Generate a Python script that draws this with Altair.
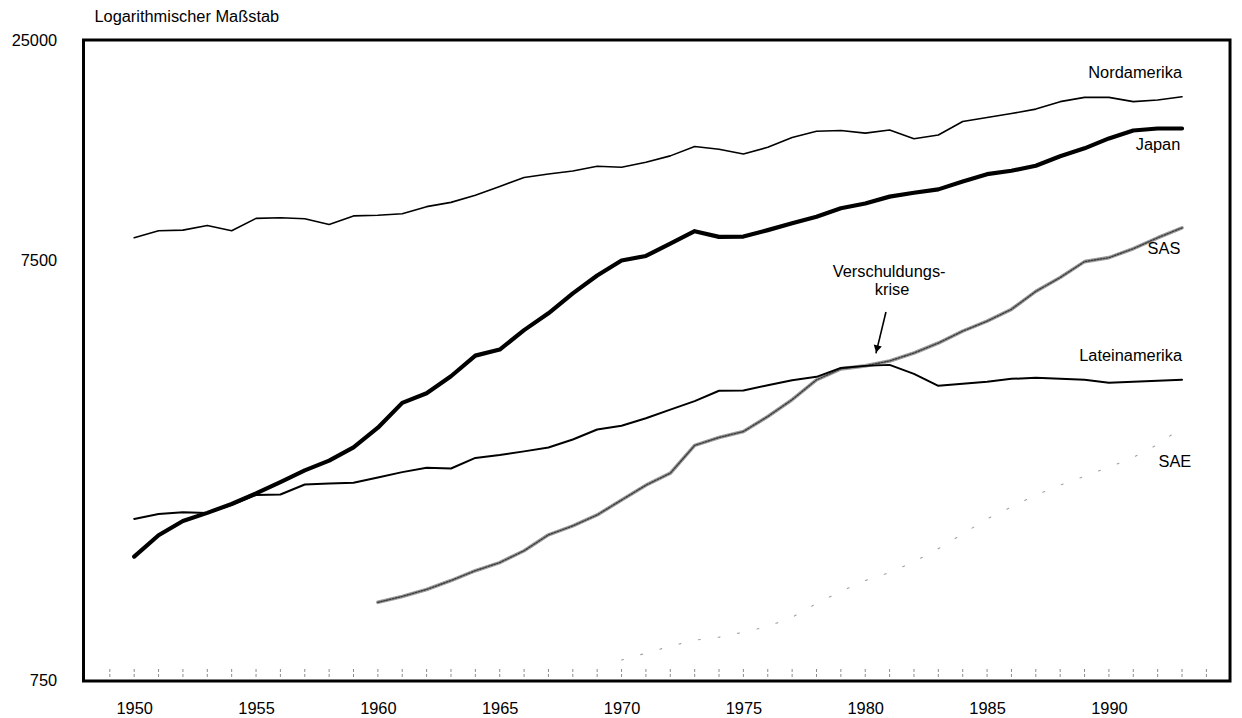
import altair as alt
import pandas as pd

FONT = "Liberation Sans"

# ---- data ----
years_main = list(range(1950, 1994))
nordamerika = [8476, 8805, 8838, 9069, 8805, 9425, 9461, 9405, 9118, 9554,
               9591, 9663, 10050, 10288, 10693, 11222, 11785, 12010, 12209, 12539,
               12464, 12807, 13268, 13970, 13752, 13404, 13902, 14679, 15182, 15248,
               15025, 15281, 14567, 14871, 16013, 16365, 16725, 17139, 17852, 18273,
               18273, 17852, 18018, 18344]
japan = [1481, 1664, 1799, 1881, 1975, 2093, 2227, 2374, 2503, 2693,
         2998, 3435, 3619, 3973, 4447, 4597, 5114, 5607, 6251, 6894,
         7484, 7674, 8204, 8786, 8517, 8532, 8838, 9178, 9507, 9958,
         10226, 10617, 10844, 11047, 11537, 12004, 12233, 12573, 13239, 13827,
         14599, 15248, 15414, 15414]
lateinamerika = [1820, 1870, 1888, 1881, 1967, 2074, 2080, 2197, 2210, 2218,
                 2284, 2351, 2407, 2398, 2541, 2582, 2634, 2691, 2811, 2968,
                 3030, 3157, 3310, 3467, 3670, 3674, 3783, 3888, 3960, 4159,
                 4205, 4228, 4025, 3771, 3812, 3854, 3917, 3939, 3917, 3896,
                 3833, 3854, 3875, 3896]
years_sas = list(range(1960, 1994))
sas = [1153, 1191, 1237, 1299, 1371, 1433, 1529, 1668, 1752, 1860,
       2018, 2189, 2337, 2721, 2842, 2936, 3187, 3495, 3896, 4137,
       4205, 4320, 4512, 4765, 5086, 5369, 5731, 6320, 6819, 7439,
       7603, 7984, 8476, 8951]
years_sae = list(range(1970, 1994))
sae = [841, 873, 907, 937, 953, 979, 1011, 1062, 1146, 1224,
       1299, 1357, 1440, 1546, 1677, 1820, 1943, 2074, 2189, 2299,
       2415, 2550, 2736, 3002]

x_ticks = [1950, 1955, 1960, 1965, 1970, 1975, 1980, 1985, 1990]
y_ticks = [750, 7500, 25000]
minor_years = list(range(1949, 1995))

label_text = ["Nordamerika", "Japan", "SAS", "Lateinamerika", "SAE"]
label_year = [1993.0, 1992.93, 1992.93, 1993.0, 1993.38]
label_value = [20904, 14055, 7984, 4439, 2480]

crisis_text = ["Verschuldungs-", "krise"]
crisis_year = [1980.98, 1981.1]
crisis_value = [7008, 6354]

arrow_year = [1980.85, 1980.44]
arrow_value = [5646, 4504]
arrowhead_year = [1980.48]
arrowhead_value = [4611]

# ---- tables ----
df_n = pd.DataFrame({"Jahr": years_main, "Wert": nordamerika})
df_j = pd.DataFrame({"Jahr": years_main, "Wert": japan})
df_l = pd.DataFrame({"Jahr": years_main, "Wert": lateinamerika})
df_s = pd.DataFrame({"Jahr": years_sas, "Wert": sas})
df_e = pd.DataFrame({"Jahr": years_sae, "Wert": sae})
df_minor = pd.DataFrame({"Jahr": minor_years})
df_lab = pd.DataFrame({"text": label_text, "Jahr": label_year, "Wert": label_value})
df_cr = pd.DataFrame({"text": crisis_text, "Jahr": crisis_year, "Wert": crisis_value})
df_ar = pd.DataFrame({"Jahr": arrow_year, "Wert": arrow_value})
df_ah = pd.DataFrame({"Jahr": arrowhead_year, "Wert": arrowhead_value})

x_scale = alt.Scale(domain=[1947.92, 1994.97], nice=False, zero=False)
y_scale = alt.Scale(type="log", domain=[750, 25000], nice=False)

x_axis = alt.Axis(values=x_ticks, format="d", title=None, grid=False, domain=False,
                  ticks=False, labelFontSize=16.5, labelFont=FONT, labelColor="black",
                  labelPadding=20)
y_axis = alt.Axis(values=y_ticks, format="d", title=None, grid=False, domain=False,
                  ticks=False, labelFontSize=16.5, labelFont=FONT, labelColor="black",
                  labelPadding=27)

X = alt.X("Jahr:Q", scale=x_scale, axis=x_axis)
Y = alt.Y("Wert:Q", scale=y_scale, axis=y_axis)


def line(df, color, width, dash=None):
    kw = dict(color=color, strokeWidth=width, strokeJoin="round", strokeCap="round")
    if dash is not None:
        kw["strokeDash"] = dash
    return alt.Chart(df).mark_line(**kw).encode(x=X, y=Y)


minor = alt.Chart(df_minor).mark_rule(color="#8a8a8a", strokeWidth=1,
                                      strokeDash=[3, 2]).encode(
    x=X, y=alt.value(633), y2=alt.value(644))

sae_line = line(df_e, "#a0a0a0", 1.1, [2, 18])
sas_base = line(df_s, "#9c9c9c", 3.6)
sas_tex = line(df_s, "#3c3c3c", 1.4, [1.5, 1.5])
nord_line = line(df_n, "black", 1.6)
lat_line = line(df_l, "black", 2.0)
jap_line = line(df_j, "black", 4.2)

labels = alt.Chart(df_lab).mark_text(align="right", baseline="middle", font=FONT,
                                     fontSize=16.5, color="black").encode(
    x=X, y=Y, text="text:N")
crisis = alt.Chart(df_cr).mark_text(align="center", baseline="middle", font=FONT,
                                    fontSize=16.5, color="black").encode(
    x=X, y=Y, text="text:N")
arrow = alt.Chart(df_ar).mark_line(color="black", strokeWidth=1.6).encode(x=X, y=Y)
arrowhead = alt.Chart(df_ah).mark_point(shape="triangle-down", filled=True, size=70,
                                        angle=13.5, color="black", opacity=1).encode(x=X, y=Y)

chart = alt.layer(
    minor, sae_line, sas_base, sas_tex, nord_line, lat_line, jap_line,
    labels, crisis, arrow, arrowhead
).properties(
    width=1154,
    height=645,
    autosize=alt.AutoSizeParams(type="none"),
    padding={"left": 76, "top": 30, "right": 4, "bottom": 35},
    title=alt.TitleParams("Logarithmischer Maßstab", anchor="start", frame="group",
                          dx=11, offset=7, fontSize=16.5, font=FONT,
                          fontWeight="normal", color="black"),
).configure_view(stroke="black", strokeWidth=3)

chart.save("out.html", embed_options={"renderer": "svg", "actions": False})
